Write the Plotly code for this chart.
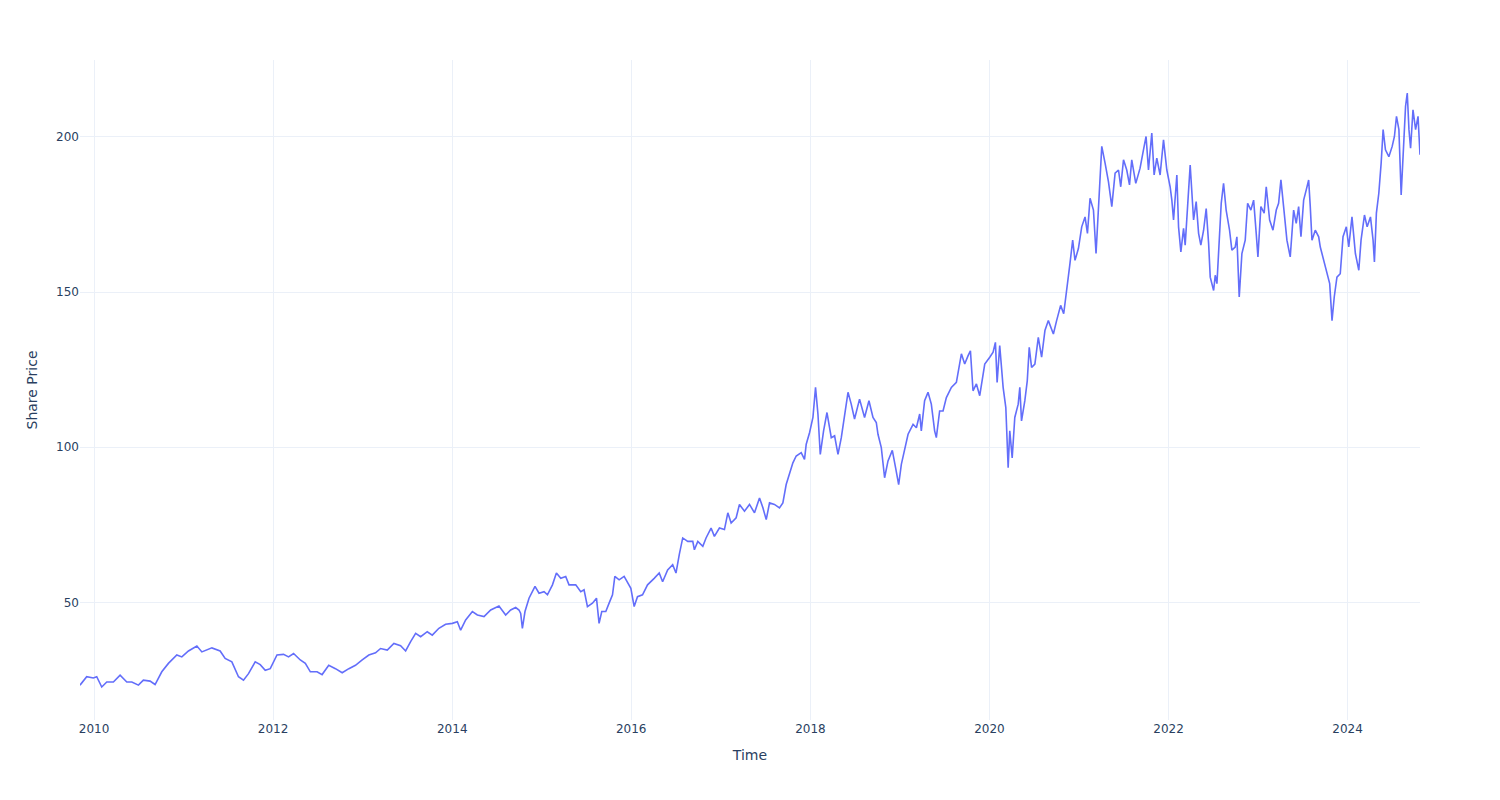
import math
import pandas as pd
import plotly.graph_objects as go

time_dec = [
    2009.843, 2009.918, 2009.992, 2010.030, 2010.086, 2010.142, 2010.216, 2010.291, 2010.366, 2010.422,
    2010.496, 2010.551, 2010.626, 2010.682, 2010.757, 2010.831, 2010.925, 2010.981, 2011.055,
    2011.149, 2011.205, 2011.317, 2011.409, 2011.465, 2011.540, 2011.614, 2011.670, 2011.726, 2011.801,
    2011.857, 2011.913, 2011.969, 2012.044, 2012.117, 2012.173, 2012.229, 2012.304,
    2012.360, 2012.416, 2012.491, 2012.547, 2012.621, 2012.696, 2012.771, 2012.845, 2012.919, 2012.994,
    2013.068, 2013.143, 2013.199, 2013.274, 2013.348, 2013.423, 2013.479, 2013.535,
    2013.591, 2013.647, 2013.721, 2013.777, 2013.851, 2013.926, 2014.001, 2014.057, 2014.094, 2014.150,
    2014.225, 2014.281, 2014.355, 2014.430, 2014.522, 2014.597, 2014.653, 2014.709, 2014.746,
    2014.765, 2014.784, 2014.813, 2014.858, 2014.925, 2014.970, 2015.026, 2015.064, 2015.120, 2015.164,
    2015.213, 2015.268, 2015.305, 2015.380, 2015.436, 2015.473, 2015.511, 2015.567, 2015.612, 2015.641,
    2015.671, 2015.716, 2015.753, 2015.791, 2015.817, 2015.865, 2015.921, 2015.977,
    2015.996, 2016.033, 2016.070, 2016.126, 2016.182, 2016.256, 2016.312, 2016.350, 2016.406, 2016.462,
    2016.499, 2016.536, 2016.574, 2016.630, 2016.686, 2016.704, 2016.742, 2016.798, 2016.834, 2016.890,
    2016.927, 2016.983, 2017.039, 2017.077, 2017.114, 2017.170, 2017.207,
    2017.263, 2017.319, 2017.375, 2017.431, 2017.469, 2017.506, 2017.543, 2017.598, 2017.654, 2017.692,
    2017.729, 2017.766, 2017.804, 2017.841, 2017.897, 2017.934, 2017.953, 2017.990, 2018.028, 2018.057,
    2018.084, 2018.110, 2018.147, 2018.185, 2018.233, 2018.270, 2018.308, 2018.345, 2018.382, 2018.420,
    2018.456,
    2018.493, 2018.549, 2018.605, 2018.654, 2018.699, 2018.736, 2018.755, 2018.792, 2018.829, 2018.867,
    2018.915, 2018.952, 2018.986, 2019.016, 2019.053, 2019.091, 2019.147, 2019.184, 2019.221, 2019.239,
    2019.276, 2019.314, 2019.351, 2019.388, 2019.407, 2019.444, 2019.482, 2019.519, 2019.575, 2019.631,
    2019.687, 2019.724, 2019.762, 2019.788, 2019.817, 2019.855, 2019.892, 2019.948, 2020.004, 2020.041,
    2020.067, 2020.086, 2020.115, 2020.153, 2020.183, 2020.209, 2020.227, 2020.254, 2020.283, 2020.321,
    2020.339, 2020.358, 2020.395, 2020.422, 2020.444, 2020.470, 2020.507, 2020.545, 2020.582, 2020.619,
    2020.657, 2020.713, 2020.749, 2020.794, 2020.828,
    2020.861, 2020.898, 2020.928, 2020.954, 2020.992, 2021.029, 2021.066, 2021.093, 2021.122, 2021.160,
    2021.189, 2021.216, 2021.253, 2021.290, 2021.328, 2021.365, 2021.402, 2021.440, 2021.465, 2021.496,
    2021.532, 2021.563, 2021.588, 2021.633, 2021.681, 2021.719, 2021.748, 2021.775, 2021.812, 2021.838,
    2021.868, 2021.905, 2021.943, 2021.980, 2022.017, 2022.036, 2022.055, 2022.092,
    2022.111, 2022.137, 2022.167, 2022.185, 2022.223, 2022.241, 2022.279, 2022.308, 2022.335, 2022.360,
    2022.391, 2022.420, 2022.447, 2022.465, 2022.503, 2022.521, 2022.540, 2022.565, 2022.588, 2022.614,
    2022.643, 2022.681, 2022.707, 2022.744, 2022.763, 2022.789, 2022.819, 2022.856, 2022.883, 2022.919,
    2022.950, 2022.979, 2022.998, 2023.031, 2023.068, 2023.091, 2023.129, 2023.166, 2023.203, 2023.229,
    2023.255, 2023.285, 2023.322,
    2023.359, 2023.397, 2023.426, 2023.453, 2023.479, 2023.509, 2023.538, 2023.565, 2023.583, 2023.602,
    2023.639, 2023.677, 2023.695, 2023.733, 2023.770, 2023.800, 2023.826, 2023.851, 2023.881, 2023.918,
    2023.949, 2023.986, 2024.013, 2024.049, 2024.087, 2024.125, 2024.150, 2024.188, 2024.218, 2024.255,
    2024.284, 2024.299, 2024.321, 2024.348, 2024.374, 2024.396, 2024.422, 2024.460, 2024.497, 2024.522,
    2024.545, 2024.572, 2024.597, 2024.620, 2024.646, 2024.665, 2024.684, 2024.702, 2024.729, 2024.758,
    2024.785, 2024.807,
]

share_price = [
    23.4, 26.1, 25.7, 26.1, 22.8, 24.4, 24.4, 26.6, 24.4, 24.4,
    23.4, 25.0, 24.7, 23.6, 27.7, 30.4, 33.1, 32.5, 34.4,
    36.0, 34.1, 35.4, 34.4, 32.0, 30.9, 26.1, 25.0, 27.1, 30.9,
    30.0, 28.2, 28.7, 33.1, 33.3, 32.5, 33.6, 31.5,
    30.4, 27.7, 27.7, 26.8, 29.8, 28.7, 27.4, 28.7, 29.8, 31.5,
    33.1, 33.8, 35.2, 34.7, 36.8, 36.1, 34.4, 37.4,
    40.1, 39.0, 40.6, 39.5, 41.7, 43.0, 43.3, 43.8, 41.1, 44.4,
    47.1, 46.0, 45.5, 47.6, 48.9, 46.0, 47.6, 48.4, 47.6,
    46.5, 41.7, 47.1, 51.4, 55.2, 53.0, 53.5, 52.5, 55.7, 59.5,
    57.8, 58.4, 55.7, 55.7, 53.5, 54.1, 48.7, 49.8, 51.4, 43.3,
    47.1, 47.1, 49.8, 52.5, 58.4, 57.3, 58.4, 55.7,
    54.6, 48.7, 51.9, 52.5, 55.7, 57.8, 59.5, 56.7, 60.5, 62.2,
    59.5, 65.5, 70.8, 69.7, 69.7, 67.0, 69.7, 68.1, 70.8, 74.0,
    71.3, 74.0, 73.5, 78.9, 75.6, 77.3, 81.6,
    79.4, 81.6, 78.9, 83.7, 80.5, 76.7, 82.1, 81.6, 80.5, 82.1,
    88.0, 91.3, 95.0, 97.2, 98.3, 96.1, 101.0, 104.7, 109.6, 119.3,
    110.7, 97.7, 105.3, 111.2, 103.1, 103.7, 97.7, 103.1, 111.2, 117.7,
    113.9,
    109.1, 115.5, 109.6, 115.0, 109.6, 108.0, 104.2, 99.9, 90.2, 95.6,
    99.0, 93.4, 88.0, 94.5, 98.8, 104.2, 107.4, 106.3, 110.7, 105.3,
    115.0, 117.7, 113.9, 105.3, 103.1, 111.7, 111.7, 116.0, 119.3, 120.9,
    130.1, 126.8, 129.5, 131.1, 118.2, 120.4, 116.6, 126.8, 129.0, 130.6,
    133.8, 120.9, 132.8, 119.3, 112.8, 93.4, 105.3, 96.6, 109.6, 113.9,
    119.3, 108.5, 115.0, 121.4, 132.2, 125.7, 126.8, 135.4, 129.0, 137.6,
    140.8, 136.5, 140.8, 145.7, 143.0,
    151.6, 159.2, 166.7, 160.2, 164.0, 171.0, 174.2, 168.9, 180.2, 176.4,
    162.4, 178.6, 196.9, 191.5, 185.5, 177.5, 188.3, 189.3, 183.9, 192.6,
    189.3, 184.5, 192.6, 185.0, 189.9, 195.8, 200.1, 189.3, 201.2, 187.7,
    193.1, 187.7, 199.0, 189.3, 183.9, 179.6, 173.2, 187.7,
    171.0, 162.9, 170.5, 165.1, 180.7, 190.9, 173.2, 179.1, 168.9, 165.1,
    169.9, 176.9, 165.6, 154.8, 150.5, 155.4, 152.7, 166.7, 178.6, 185.0,
    176.4, 169.9, 163.5, 164.5, 167.8, 148.4, 162.4, 166.7, 178.6, 176.4,
    179.6, 168.9, 161.3, 177.5, 175.4, 183.9, 173.2, 169.9, 176.4, 178.6,
    186.1, 177.5, 166.7,
    161.3, 176.4, 172.1, 177.5, 167.8, 179.6, 182.9, 186.1, 177.5, 166.7,
    169.9, 167.8, 164.5, 160.2, 156.4, 152.7, 140.8, 148.4, 154.8, 155.9,
    167.8, 171.0, 164.5, 174.2, 162.4, 157.0, 166.7, 174.8, 171.0, 174.2,
    166.7, 159.7, 175.4, 181.8, 191.5, 202.3, 195.8, 193.6, 196.9, 200.1,
    206.6, 202.3, 181.3, 196.9, 209.8, 214.1, 202.3, 196.3, 208.7, 202.3,
    206.6, 194.2,
]


def to_date(t):
    y = int(math.floor(t))
    start = pd.Timestamp(year=y, month=1, day=1)
    end = pd.Timestamp(year=y + 1, month=1, day=1)
    return start + (end - start) * (t - y)


dates = [to_date(t) for t in time_dec]

fig = go.Figure()
fig.add_trace(go.Scatter(
    x=dates, y=share_price, mode="lines",
    line=dict(color="#636efa", width=1.6),
    name="Share Price",
))

fig.update_layout(
    template="plotly_white",
    width=1500, height=800,
    margin=dict(l=80, r=80, t=60, b=80),
    showlegend=False,
    font=dict(family="DejaVu Sans"),
    xaxis=dict(title=dict(text="Time")),
    yaxis=dict(title=dict(text="Share Price")),
)

fig.write_html("out.html")
